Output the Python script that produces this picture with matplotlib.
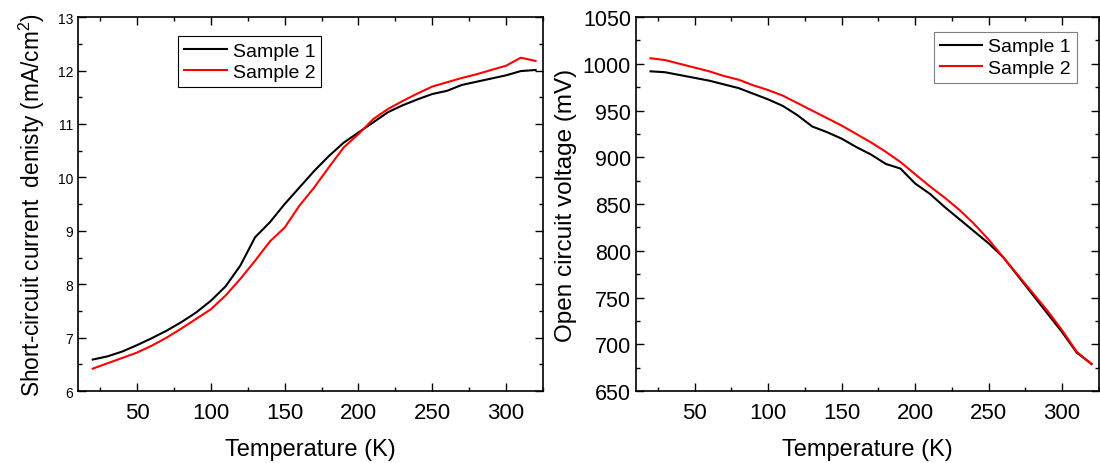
import matplotlib
matplotlib.use("Agg")
import matplotlib.pyplot as plt
from matplotlib.ticker import MultipleLocator

plt.rcParams["font.family"] = ["Liberation Sans", "DejaVu Sans"]
plt.rcParams["mathtext.default"] = "regular"

temps = [20, 30, 40, 50, 60, 70, 80, 90, 100, 110, 120, 130, 140, 150, 160, 170,
         180, 190, 200, 210, 220, 230, 240, 250, 260, 270, 280, 290, 300, 310, 320]

jsc_s1 = [6.59, 6.65, 6.74, 6.86, 6.99, 7.13, 7.29, 7.47, 7.69, 7.96, 8.35, 8.88,
          9.16, 9.50, 9.81, 10.12, 10.40, 10.65, 10.84, 11.03, 11.22, 11.35, 11.46,
          11.56, 11.62, 11.73, 11.79, 11.85, 11.91, 11.99, 12.01]
jsc_s2 = [6.42, 6.52, 6.62, 6.72, 6.85, 7.00, 7.17, 7.35, 7.53, 7.79, 8.10, 8.44,
          8.80, 9.06, 9.47, 9.81, 10.19, 10.56, 10.81, 11.09, 11.28, 11.43, 11.57,
          11.70, 11.78, 11.86, 11.93, 12.01, 12.09, 12.24, 12.18]

voc_s1 = [992, 991, 988, 985, 982, 978, 974, 968, 962, 955, 945, 933, 927, 920, 911,
          903, 893, 888, 872, 861, 847, 834, 821, 808, 793, 773, 753, 733, 713, 691, 679]
voc_s2 = [1006, 1004, 1000, 996, 992, 987, 983, 977, 972, 966, 958, 950, 942, 934, 925,
          916, 906, 895, 882, 869, 857, 844, 829, 812, 793, 774, 755, 736, 715, 692, 679]

labels = ["Sample 1", "Sample 2"]
colors = ["black", "red"]

fig = plt.figure(figsize=(11, 4.64), dpi=100)
ax1 = fig.add_axes([0.0709, 0.155, 0.4227, 0.806])
ax2 = fig.add_axes([0.578, 0.155, 0.421, 0.806])


def style(ax, ymaj, ymin, ylabelsize):
    ax.set_xlim(10, 325)
    ax.xaxis.set_major_locator(MultipleLocator(50))
    ax.xaxis.set_minor_locator(MultipleLocator(25))
    ax.yaxis.set_major_locator(MultipleLocator(ymaj))
    ax.yaxis.set_minor_locator(MultipleLocator(ymin))
    ax.tick_params(which="both", direction="in", top=True, right=True)
    ax.tick_params(which="major", length=6, width=1)
    ax.tick_params(which="minor", length=3, width=1)
    ax.tick_params(axis="x", labelsize=16, pad=8)
    ax.tick_params(axis="y", labelsize=ylabelsize)
    ax.set_xlabel("Temperature (K)", fontsize=17, labelpad=11)
    for s in ax.spines.values():
        s.set_linewidth(1.2)


ax1.plot(temps, jsc_s1, color=colors[0], lw=1.5, label=labels[0])
ax1.plot(temps, jsc_s2, color=colors[1], lw=1.5, label=labels[1])
ax1.set_ylim(6, 13)
style(ax1, 1, 0.5, 10)
ax1.set_ylabel("Short-circuit current  denisty (mA/cm$^{2}$)", fontsize=16.3, labelpad=8)
leg1 = ax1.legend(loc="upper left", bbox_to_anchor=(0.216, 0.949), borderaxespad=0,
                  fontsize=14, fancybox=False, framealpha=1, edgecolor="black",
                  handlelength=2.2, handletextpad=0.3, borderpad=0.3, labelspacing=0.2)
leg1.get_frame().set_linewidth(0.8)

ax2.plot(temps, voc_s1, color=colors[0], lw=1.5, label=labels[0])
ax2.plot(temps, voc_s2, color=colors[1], lw=1.5, label=labels[1])
ax2.set_ylim(650, 1050)
style(ax2, 50, 25, 15.5)
ax2.set_ylabel("Open circuit voltage (mV)", fontsize=17.5, labelpad=4)
leg2 = ax2.legend(loc="upper right", bbox_to_anchor=(0.952, 0.96), borderaxespad=0,
                  fontsize=14, fancybox=False, framealpha=1, edgecolor="gray",
                  handlelength=2.2, handletextpad=0.3, borderpad=0.3, labelspacing=0.2)
leg2.get_frame().set_linewidth(0.8)

fig.savefig("out.png", dpi=100)
